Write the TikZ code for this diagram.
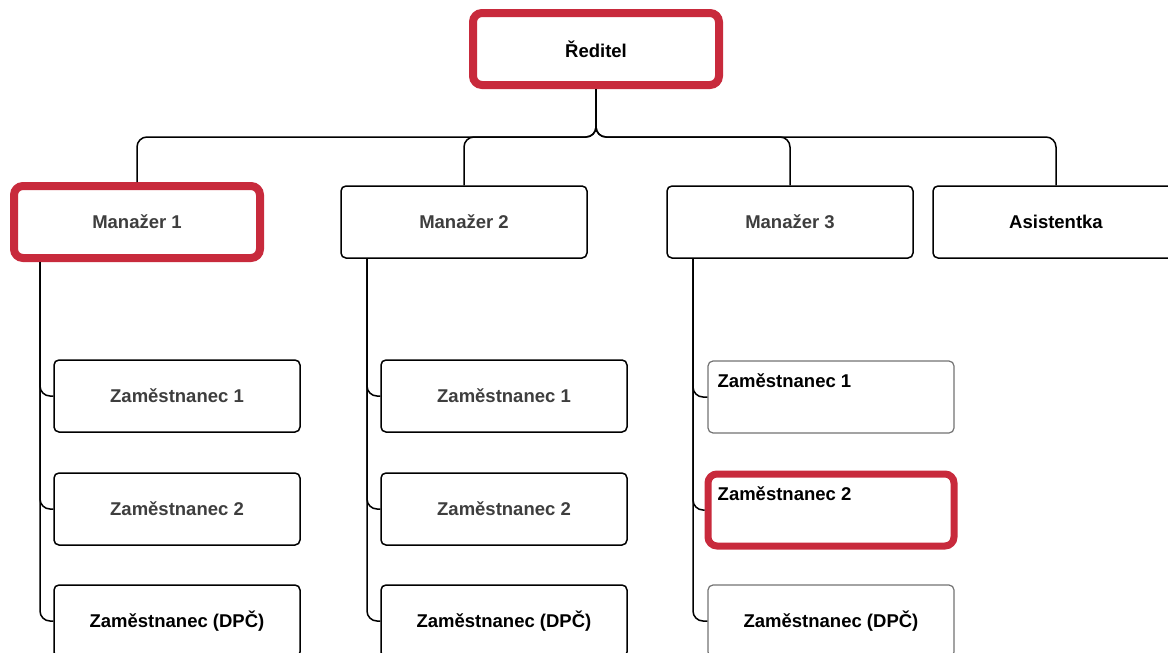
\documentclass[tikz,border=0pt]{standalone}
\usepackage{fontspec}
\setmainfont{Liberation Sans}
\usetikzlibrary{positioning}
\definecolor{markred}{RGB}{200,42,60}
\definecolor{textgray}{RGB}{62,62,62}

\begin{document}
\begin{tikzpicture}[x=1pt, y=-1pt,
		box/.style={draw, line width=1.5pt, rounded corners=5pt, fill=white,
			minimum width=246pt, minimum height=72pt, inner sep=0pt,
			font=\fontsize{18.5}{21}\selectfont\bfseries},
		redbox/.style={box, draw=markred, line width=8pt, rounded corners=9pt},
		lightbox/.style={box, draw=black!55, line width=1.2pt},
		conn/.style={line width=1.5pt, rounded corners=10pt},
		toptext/.style={anchor=north west, inner sep=0pt, xshift=10pt, yshift=-13pt,
			font=\fontsize{18.5}{21}\selectfont\bfseries}]
	\useasboundingbox (0,0) rectangle (1168,653);
	\clip (0,0) rectangle (1168,653);
	% vedeni
	\node[redbox] (dir) at (596,49) {Ředitel};
	\node[redbox, text=textgray] (m1) at (137,222) {Manažer 1};
	\node[box, text=textgray] (m2) at (464,222) {Manažer 2};
	\node[box, text=textgray] (m3) at (790,222) {Manažer 3};
	\node[box] (asis) at (1056,222) {Asistentka};
	% zamestnanci
	\foreach \c/\x in {1/177,2/504} {
		\node[box, text=textgray] (e\c1) at (\x,396) {Zaměstnanec 1};
		\node[box, text=textgray] (e\c2) at (\x,509) {Zaměstnanec 2};
		\node[box] (e\c3) at (\x,621) {Zaměstnanec (DPČ)};
	}
	\node[lightbox, label={[toptext]north west:Zaměstnanec 1}] (e31) at (831,397) {};
	\node[redbox, line width=7pt,
		label={[toptext, xshift=3pt, yshift=-3pt]north west:Zaměstnanec 2}] (e32) at (831,510) {};
	\node[lightbox] (e33) at (831,621) {Zaměstnanec (DPČ)};
	% spojnice
	\coordinate (bus) at (596,137);
	\foreach \m in {m1,m2,m3,asis}
		\draw[conn] (dir.south) -- (bus) -| (\m.north);
	\foreach \m/\c in {m1/1,m2/2,m3/3}
		\foreach \r in {1,2,3}
			\draw[conn] ([xshift=-97pt]\m.south) |- (e\c\r.west);
\end{tikzpicture}
\end{document}
